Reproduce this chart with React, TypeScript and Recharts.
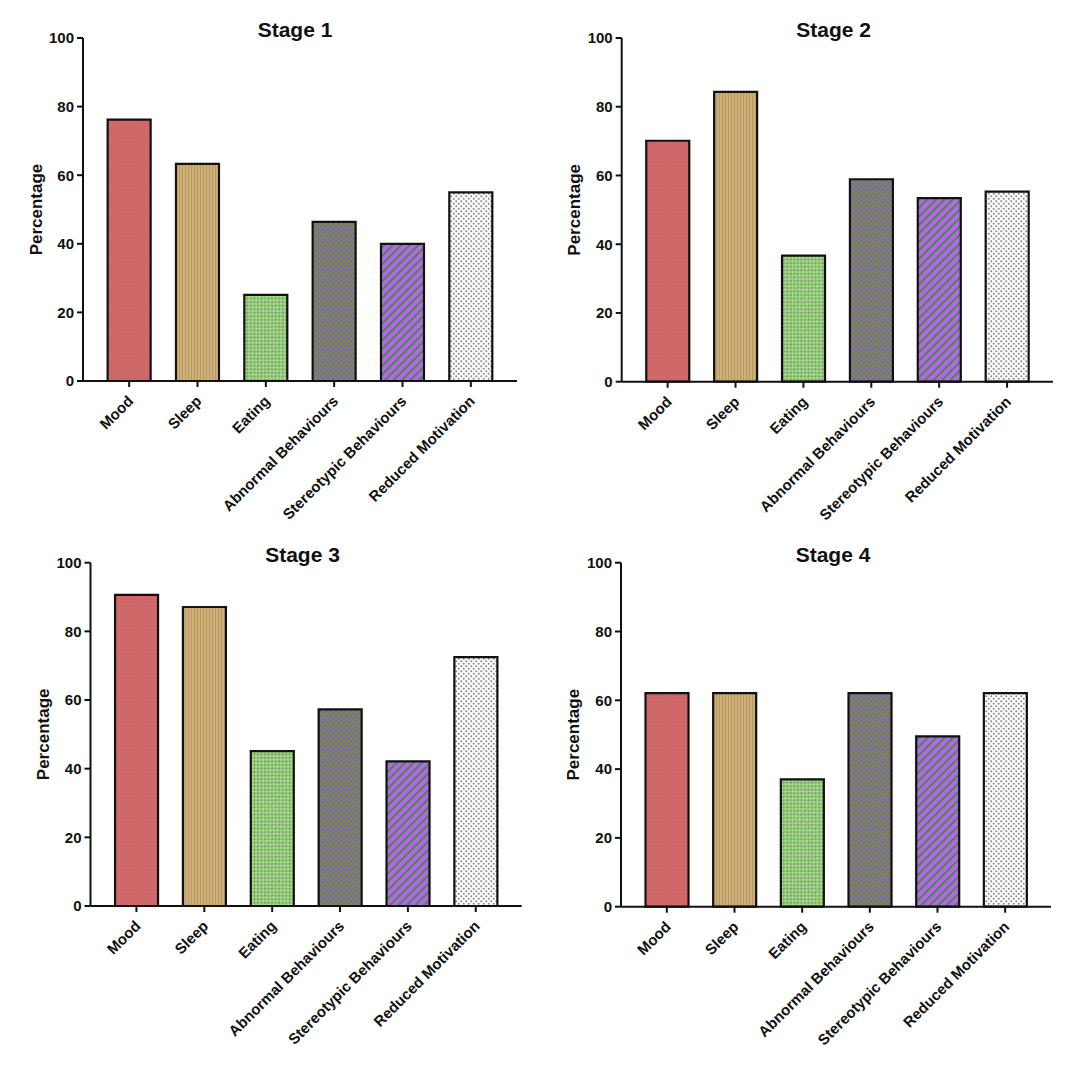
import React from 'react';
import { BarChart, Bar, XAxis, YAxis, Cell } from 'recharts';

const categories = [
  'Mood',
  'Sleep',
  'Eating',
  'Abnormal Behaviours',
  'Stereotypic Behaviours',
  'Reduced Motivation',
];
const stage1 = [76.2, 63.3, 25.1, 46.4, 40.0, 55.0];
const stage2 = [70.1, 84.3, 36.7, 58.9, 53.4, 55.3];
const stage3 = [90.6, 87.1, 45.1, 57.3, 42.1, 72.5];
const stage4 = [62.1, 62.1, 37.0, 62.1, 49.5, 62.1];
const titles = ['Stage 1', 'Stage 2', 'Stage 3', 'Stage 4'];
const yTicks = [0, 20, 40, 60, 80, 100];

const patternIds = ['pMood', 'pSleep', 'pEating', 'pAbnormal', 'pStereo', 'pReduced'];
const FONT = '"Liberation Sans", Arial, sans-serif';

// page geometry of each panel: box, y-axis x, 100 / 0 y, end of x-axis
const panels = [
  { values: stage1, box: [0, 0, 540, 545], x0: 83, yTop: 38, yBottom: 381, xEnd: 517 },
  { values: stage2, box: [540, 0, 544, 545], x0: 621.7, yTop: 38, yBottom: 381.7, xEnd: 1053 },
  { values: stage3, box: [0, 530, 540, 544], x0: 90.5, yTop: 562.7, yBottom: 906, xEnd: 521.7 },
  { values: stage4, box: [540, 530, 544, 544], x0: 621, yTop: 562.7, yBottom: 906.7, xEnd: 1051 },
];

const CategoryTick = (props: any) => {
  const { x, y, payload } = props;
  const ax = x + 5;
  const ay = y + 13;
  return (
    <text
      x={ax}
      y={ay}
      transform={`rotate(-45, ${ax}, ${ay})`}
      textAnchor="end"
      fontSize={15}
      fontWeight="bold"
      fontFamily={FONT}
      fill="#111"
    >
      {payload.value}
    </text>
  );
};

const PercentLabel = (props: any) => {
  const { x, y, width, height } = props.viewBox;
  const cx = x + width - 47;
  const cy = y + height / 2;
  return (
    <text
      x={cx}
      y={cy}
      transform={`rotate(-90, ${cx}, ${cy})`}
      textAnchor="middle"
      dominantBaseline="central"
      fontSize={17}
      fontWeight="bold"
      fontFamily={FONT}
      fill="#111"
    >
      Percentage
    </text>
  );
};

function Panel({ p }: { p: (typeof panels)[number] }) {
  const [bl, bt, bw, bh] = p.box;
  const data = categories.map((name, i) => ({ name, value: p.values[i] }));
  return (
    <div style={{ position: 'absolute', left: bl, top: bt, width: bw, height: bh }}>
      <BarChart
        width={bw}
        height={bh}
        data={data}
        margin={{ top: p.yTop - bt, left: 0, right: bl + bw - p.xEnd, bottom: 0 }}
        barCategoryGap="18.5%"
      >
        <XAxis
          dataKey="name"
          height={bt + bh - p.yBottom}
          interval={0}
          padding={{ left: 12, right: 12 }}
          axisLine={{ stroke: '#111', strokeWidth: 2 }}
          tickLine={{ stroke: '#111', strokeWidth: 2 }}
          tickSize={6}
          tick={<CategoryTick />}
        />
        <YAxis
          width={p.x0 - bl}
          domain={[0, 100]}
          ticks={yTicks}
          interval={0}
          axisLine={{ stroke: '#111', strokeWidth: 2 }}
          tickLine={{ stroke: '#111', strokeWidth: 2 }}
          tickSize={6}
          tickMargin={3}
          tick={{ fontSize: 15, fontWeight: 'bold', fill: '#111', fontFamily: FONT }}
          label={<PercentLabel />}
        />
        <Bar dataKey="value" stroke="#111" strokeWidth={2.2} isAnimationActive={false}>
          {data.map((d, i) => (
            <Cell key={d.name} fill={`url(#${patternIds[i]})`} />
          ))}
        </Bar>
      </BarChart>
    </div>
  );
}

export default function App() {
  return (
    <div
      style={{
        position: 'absolute',
        left: 0,
        top: 0,
        width: 1084,
        height: 1074,
        background: '#fff',
        overflow: 'hidden',
      }}
    >
      <svg width={0} height={0} style={{ position: 'absolute' }}>
        <defs>
          <pattern id="pMood" width="3" height="3" patternUnits="userSpaceOnUse">
            <rect width="3" height="3" fill="#d06a6a" />
            <rect width="1" height="1" fill="#c25e5e" />
          </pattern>
          <pattern id="pSleep" width="3" height="3" patternUnits="userSpaceOnUse">
            <rect width="3" height="3" fill="#d3af6e" />
            <rect x="2" width="1" height="3" fill="#b09a78" />
          </pattern>
          <pattern id="pEating" width="5" height="5" patternUnits="userSpaceOnUse" patternTransform="rotate(45)">
            <rect width="5" height="5" fill="#98ea74" />
            <rect width="2" height="2.5" fill="#8e8e88" />
            <rect x="2.5" y="2.5" width="2" height="2.5" fill="#8e8e88" />
          </pattern>
          <pattern id="pAbnormal" width="5" height="5" patternUnits="userSpaceOnUse">
            <rect width="5" height="5" fill="#8c892c" />
            <rect width="2.2" height="2.2" fill="#6262f0" />
            <rect x="2.5" y="2.5" width="2.2" height="2.2" fill="#6262f0" />
          </pattern>
          <pattern id="pStereo" width="6" height="6" patternUnits="userSpaceOnUse" patternTransform="rotate(45)">
            <rect width="6" height="6" fill="#b466f2" />
            <rect width="2" height="6" fill="#4f8a3c" />
          </pattern>
          <pattern id="pReduced" width="5" height="5" patternUnits="userSpaceOnUse">
            <rect width="5" height="5" fill="#fbfbfb" />
            <circle cx="1.25" cy="1.25" r="1" fill="#8a8a8a" />
            <circle cx="3.75" cy="3.75" r="1" fill="#8a8a8a" />
          </pattern>
        </defs>
      </svg>
      {panels.map((p, i) => (
        <Panel key={titles[i]} p={p} />
      ))}
      <svg
        width={1084}
        height={1074}
        style={{ position: 'absolute', left: 0, top: 0, pointerEvents: 'none' }}
      >
        {panels.map((p, i) => (
          <text
            key={titles[i]}
            x={p.x0 + 212}
            y={p.yTop - 1}
            textAnchor="middle"
            fontSize={21}
            fontWeight="bold"
            fontFamily={FONT}
            fill="#111"
          >
            {titles[i]}
          </text>
        ))}
      </svg>
    </div>
  );
}
